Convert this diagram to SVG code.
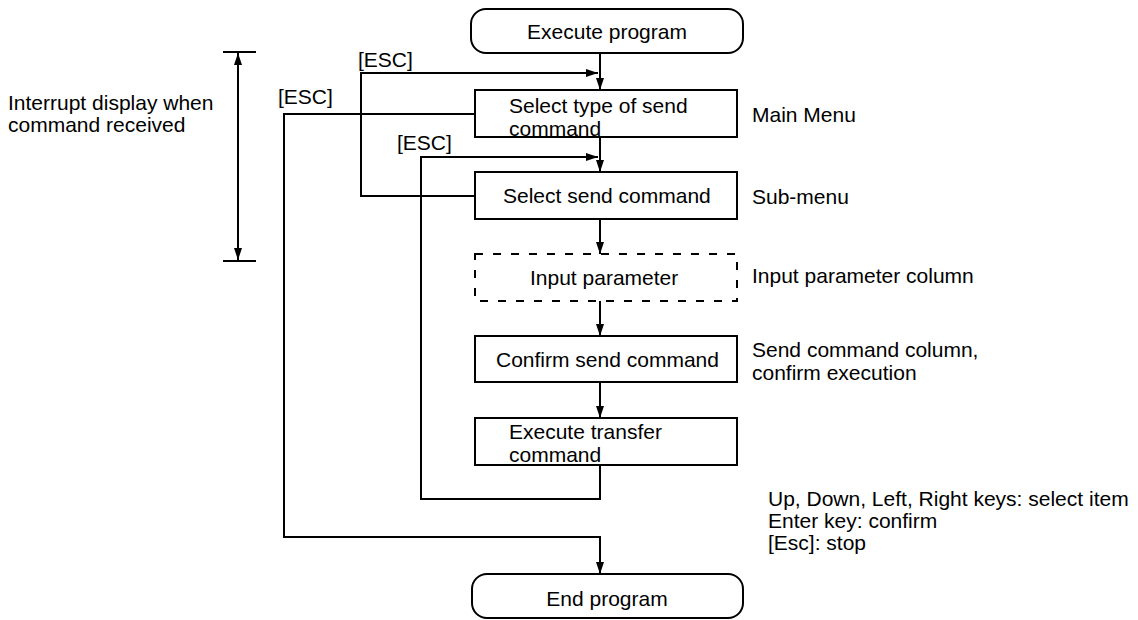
<svg xmlns="http://www.w3.org/2000/svg" width="1138" height="620" viewBox="0 0 1138 620">
<defs>
<marker id="ah" viewBox="0 0 12 8" refX="12" refY="4" markerWidth="12" markerHeight="8" markerUnits="userSpaceOnUse" orient="auto-start-reverse">
<path d="M0,0 L12,4 L0,8 Z" fill="#000"/>
</marker>
<style>
text{font-family:"Liberation Sans",Arial,sans-serif;font-size:21px;fill:#000}
.box{fill:#fff;stroke:#000;stroke-width:2}
.dash{fill:none;stroke:#000;stroke-width:2;stroke-dasharray:8 10}
.ln{fill:none;stroke:#000;stroke-width:2}
.arr{fill:none;stroke:#000;stroke-width:2;marker-end:url(#ah)}
.mid{text-anchor:middle}
</style>
</defs>
<rect width="1138" height="620" fill="#fff"/>
<g id="connectors">
<line class="arr" x1="600" y1="54" x2="600" y2="90"/>
<path class="arr" d="M475,196 H361 V73 H598"/>
<line class="arr" x1="600" y1="137" x2="600" y2="172"/>
<path class="arr" d="M600,465 V499 H421 V157 H598"/>
<path class="arr" d="M475,114 H284 V537 H600 V574"/>
<line class="arr" x1="600" y1="219" x2="600" y2="254"/>
<line class="arr" x1="600" y1="301" x2="600" y2="336"/>
<line class="arr" x1="600" y1="382" x2="600" y2="418"/>
</g>
<g id="dimension">
<line class="ln" x1="223" y1="52" x2="256" y2="52"/>
<line class="ln" x1="223" y1="261" x2="256" y2="261"/>
<line class="ln" x1="238" y1="53" x2="238" y2="260" marker-start="url(#ah)" marker-end="url(#ah)"/>
<text x="8" y="110">Interrupt display when</text>
<text x="8" y="132">command received</text>
</g>
<g id="esc-labels">
<text x="358" y="67">[ESC]</text>
<text x="278" y="104">[ESC]</text>
<text x="397" y="150">[ESC]</text>
</g>
<g id="start">
<rect class="box" x="471" y="9" width="272" height="44" rx="15"/>
<text class="mid" x="607" y="39">Execute program</text>
</g>
<g id="main-menu">
<rect class="box" x="475" y="90" width="262" height="47"/>
<text x="509" y="113">Select type of send</text>
<text x="509" y="136">command</text>
</g>
<g id="sub-menu">
<rect class="box" x="475" y="172" width="262" height="47"/>
<text x="503" y="203">Select send command</text>
</g>
<g id="input-parameter">
<rect class="dash" x="475" y="254" width="262" height="47"/>
<text x="530" y="285">Input parameter</text>
</g>
<g id="confirm">
<rect class="box" x="475" y="336" width="262" height="46"/>
<text x="496" y="367">Confirm send command</text>
</g>
<g id="execute-transfer">
<rect class="box" x="475" y="418" width="262" height="47"/>
<text x="509" y="439">Execute transfer</text>
<text x="509" y="462">command</text>
</g>
<g id="end">
<rect class="box" x="472" y="574" width="271" height="44" rx="15"/>
<text class="mid" x="607" y="606">End program</text>
</g>
<g id="side-labels">
<text x="752" y="122">Main Menu</text>
<text x="752" y="204">Sub-menu</text>
<text x="752" y="283">Input parameter column</text>
<text x="752" y="357">Send command column,</text>
<text x="752" y="380">confirm execution</text>
<text x="768" y="506">Up, Down, Left, Right keys: select item</text>
<text x="768" y="528">Enter key: confirm</text>
<text x="768" y="550">[Esc]: stop</text>
</g>
</svg>
